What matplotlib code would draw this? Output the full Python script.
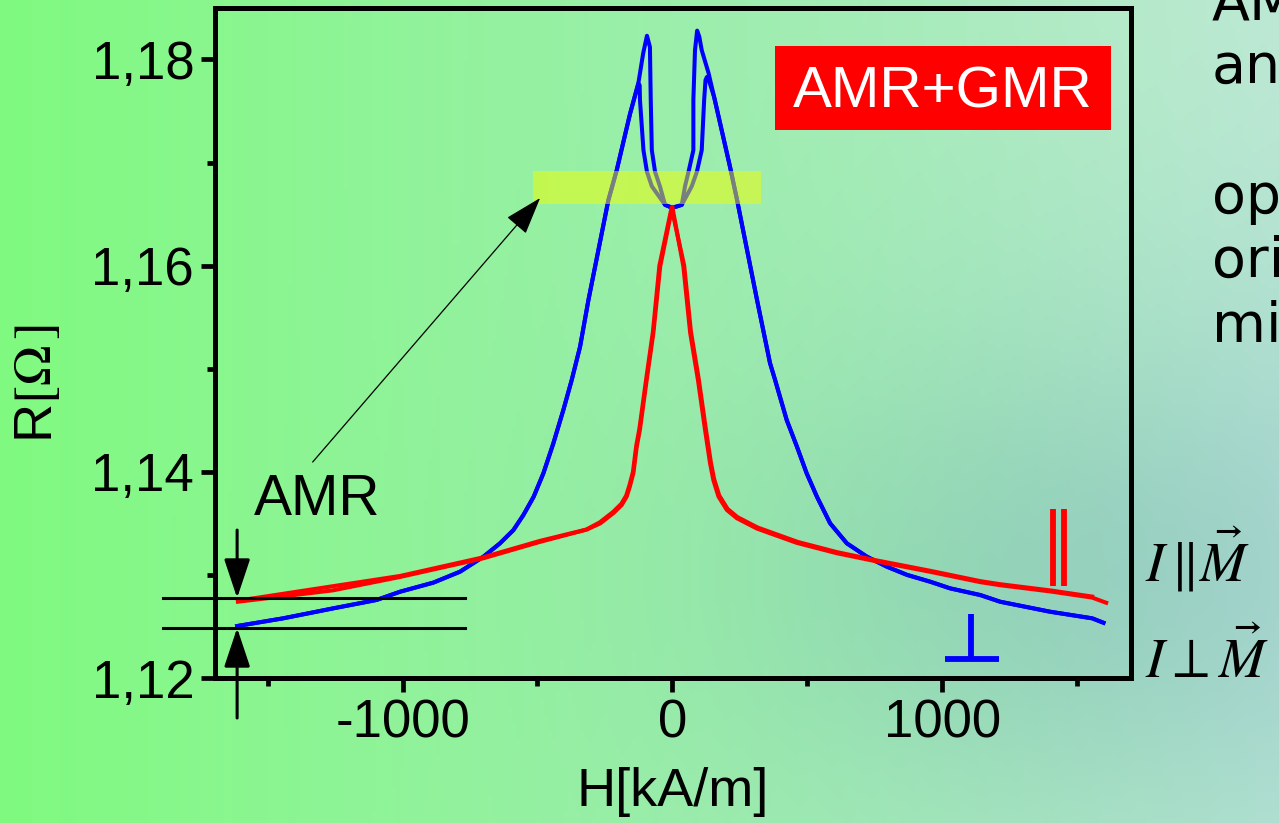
import numpy as np
import matplotlib.pyplot as plt
from matplotlib.patches import Rectangle
from matplotlib.ticker import FixedLocator, FuncFormatter

plt.rcParams['font.family'] = ['Liberation Sans', 'DejaVu Sans']
plt.rcParams['mathtext.fontset'] = 'stix'
plt.rcParams['axes.unicode_minus'] = False

#%% DATA  (H in kA/m, R in Ohm)
# blue: I perpendicular to M, shared outer envelope
blue_left_H = [-1613, -1442, -1256, -1096, -1009, -886, -787, -700, -639, -589,
               -552, -514, -478, -441, -404, -373, -342, -311, -237, -206,
               -157, -126]
blue_left_R = [1.12504, 1.12579, 1.12676, 1.12757, 1.12837, 1.12925, 1.13031,
               1.13177, 1.13306, 1.13435, 1.13581, 1.13758, 1.13985, 1.14276,
               1.14599, 1.14890, 1.15213, 1.15666, 1.16636, 1.16927, 1.17470,
               1.17768]
blue_right_H = [155, 214, 240, 314, 362, 381, 424, 462, 498, 536, 585, 647,
                721, 795, 870, 956, 1029, 1141, 1215, 1400, 1556, 1598]
blue_right_R = [1.17635, 1.16956, 1.16636, 1.15666, 1.15055, 1.14890, 1.14502,
                1.14243, 1.13985, 1.13758, 1.13500, 1.13306, 1.13177, 1.13080,
                1.13000, 1.12934, 1.12870, 1.12805, 1.12740, 1.12643, 1.12579,
                1.12536]
# sweep with the high peaks
blueA_mid_H = [-108, -94, -83, -80, -76, -64, -46, -27, 0, 35, 47, 60, 78, 78,
               84, 92, 100, 109, 134]
blueA_mid_R = [1.1806, 1.1823, 1.1812, 1.1761, 1.1712, 1.1691, 1.1677, 1.1659,
               1.1656, 1.1659, 1.1677, 1.1691, 1.1712, 1.1761, 1.1809, 1.1828,
               1.1822, 1.1809, 1.1787]
# sweep with the low peaks
blueB_mid_H = [-121, -120, -107, -94, -76, -27, 0, 35, 72, 91, 109, 118, 123,
               128, 134]
blueB_mid_R = [1.1775, 1.1761, 1.1712, 1.1691, 1.1677, 1.1659, 1.1656, 1.1659,
               1.1677, 1.1691, 1.1712, 1.1761, 1.1780, 1.1783, 1.1781]

# red: I parallel to M, two sweeps
red_H = [-1610, -1258, -1009, -702, -491, -317, -267, -218, -187, -169, -157,
         -144, -132, -120, -95, -70, -45, 0, 41, 66, 95, 121, 140, 152, 171,
         202, 239, 313, 462, 610, 759, 956, 1141, 1215, 1400, 1556, 1608]
red_R = [1.1274, 1.1285, 1.1298, 1.1316, 1.1332, 1.1344, 1.1350, 1.1360,
         1.1368, 1.1376, 1.1386, 1.1399, 1.1424, 1.1441, 1.1489, 1.1535,
         1.1599, 1.1657, 1.1599, 1.1535, 1.1489, 1.1441, 1.1408, 1.1392,
         1.1376, 1.1363, 1.1355, 1.1345, 1.1331, 1.1321, 1.1313, 1.1303,
         1.1293, 1.1290, 1.1284, 1.1278, 1.1273]
red2_H = [-1560, -1009, -702, -491, -319, -269, -220, -189, -171, -159, -146,
          -134, -122, -97, -72, -48, -3, 44, 69, 98, 124, 143, 155, 174, 205,
          242, 316, 465, 612, 759, 956, 1141, 1215, 1400, 1556]
red2_R = [1.1277, 1.1299, 1.1317, 1.1333, 1.1344, 1.1351, 1.1361, 1.1369,
          1.1377, 1.1387, 1.1400, 1.1425, 1.1442, 1.1490, 1.1536, 1.1600,
          1.1656, 1.1600, 1.1536, 1.1490, 1.1442, 1.1409, 1.1393, 1.1377,
          1.1364, 1.1356, 1.1346, 1.1332, 1.1322, 1.1314, 1.1304, 1.1294,
          1.1291, 1.1285, 1.1279]

x_major = [-1000, 0, 1000]
x_minor = [-1500, -500, 500, 1500]
y_major = [1.12, 1.14, 1.16, 1.18]
y_minor = [1.13, 1.15, 1.17]

#%% FIGURE + BACKGROUND
fig = plt.figure(figsize=(12.79, 8.23), dpi=100)
bg = fig.add_axes([0, 0, 1, 1], zorder=-10)
gx, gy = np.meshgrid(np.linspace(0, 1, 320), np.linspace(0, 1, 206))
d = np.exp(-((gx - 0.85) ** 2 + (gy - 0.7) ** 2) / 0.08)
l = np.exp(-((gx - 0.97) ** 2 + gy ** 2) / 0.06)
img = np.dstack([128 + 52 * gx - 22 * d + 8 * l,
                 250 - 22 * gx - 22 * d + 4 * l,
                 128 + 82 * gx - 8 * d + 2 * l]) / 255
bg.imshow(np.clip(img, 0, 1), extent=[0, 1, 0, 1], aspect='auto')
bg.axis('off')

ax = fig.add_axes([0.1681, 0.17618, 0.71619, 0.81470])
ax.set_facecolor('none')

#%% PLOT
lw = 2.9
ax.plot(blue_left_H + blueA_mid_H + blue_right_H,
        blue_left_R + blueA_mid_R + blue_right_R, color='#0000ff', lw=lw,
        zorder=2, solid_joinstyle='round')
ax.plot(blue_left_H + blueB_mid_H + blue_right_H,
        blue_left_R + blueB_mid_R + blue_right_R, color='#0000ff', lw=lw,
        zorder=2, solid_joinstyle='round')
ax.plot(red_H, red_R, color='#ff0000', lw=lw, zorder=3, solid_joinstyle='round')
ax.plot(red2_H, red2_R, color='#ff0000', lw=lw, zorder=3, solid_joinstyle='round')

ax.add_patch(Rectangle((-516, 1.16597), 843, 0.0032, facecolor=(0.94, 1, 0),
                       alpha=0.5, edgecolor='none', zorder=5))

ax.set_xlim(-1695, 1700)
ax.set_ylim(1.12, 1.18504)

ax.xaxis.set_major_locator(FixedLocator(x_major))
ax.xaxis.set_minor_locator(FixedLocator(x_minor))
ax.yaxis.set_major_locator(FixedLocator(y_major))
ax.yaxis.set_minor_locator(FixedLocator(y_minor))
ax.xaxis.set_major_formatter(FuncFormatter(lambda v, p: f"{v:.0f}"))
ax.yaxis.set_major_formatter(FuncFormatter(lambda v, p: f"{v:.2f}".replace('.', ',')))
ax.tick_params(which='major', direction='out', length=10, width=3.4,
               labelsize=38, pad=5)
ax.tick_params(which='minor', direction='out', length=6, width=3.4)
for s in ax.spines.values():
    s.set_linewidth(3.6)

ax.set_xlabel('H[kA/m]', fontsize=39, labelpad=13)
fig.text(38 / 1279, 1 - 383 / 823, r'R$[\Omega\,]$', fontsize=39,
         rotation=90, ha='center', va='center')

# AMR+GMR tag
ax.add_patch(Rectangle((0.6109, 0.8179), 0.3674, 0.1254, transform=ax.transAxes,
                       facecolor='#ff0000', edgecolor='none', zorder=6))
ax.text(0.7946, 0.8507, 'AMR+GMR', transform=ax.transAxes, fontsize=42,
        color='white', ha='center', va='baseline', zorder=7)

# AMR marker
ax.text(0.0424, 0.2433, 'AMR', transform=ax.transAxes, fontsize=41,
        va='baseline', ha='left')
ax.annotate('', xy=(-490, 1.16656), xytext=(-1333, 1.14095),
            arrowprops=dict(arrowstyle='-|>,head_length=2.4,head_width=0.8',
                            mutation_scale=10, color='black', lw=0.9,
                            shrinkA=0, shrinkB=0), zorder=6)
for r in (1.12776, 1.12485):
    ax.plot([-1888, -768], [r, r], color='black', lw=2.2, clip_on=False, zorder=4)
ax.annotate('', xy=(-1613, 1.12776), xytext=(-1613, 1.13435),
            annotation_clip=False,
            arrowprops=dict(arrowstyle='-|>,head_length=2.4,head_width=0.8',
                            mutation_scale=10, color='black', lw=2.2,
                            shrinkA=0, shrinkB=0))
ax.annotate('', xy=(-1613, 1.12485), xytext=(-1613, 1.11612),
            annotation_clip=False,
            arrowprops=dict(arrowstyle='-|>,head_length=2.4,head_width=0.8',
                            mutation_scale=10, color='black', lw=2.2,
                            shrinkA=0, shrinkB=0))

# parallel / perpendicular symbols
for h in (1411, 1452):
    ax.plot([h, h], [1.12892, 1.13639], color='#ff0000', lw=4.2,
            solid_capstyle='butt')
ax.plot([1011, 1211], [1.12184, 1.12184], color='#0000ff', lw=4.2,
        solid_capstyle='butt')
ax.plot([1107, 1107], [1.12184, 1.12621], color='#0000ff', lw=4.2,
        solid_capstyle='butt')

fig.text(1145 / 1279, 1 - 582 / 823, r'$I\,\Vert\vec{M}$', fontsize=40,
         va='baseline', ha='left')
fig.text(1145 / 1279, 1 - 678 / 823, r'$I\perp\vec{M}$', fontsize=40,
         va='baseline', ha='left')

# slide text running off the right edge, as in the original
for txt, yb in [('AM', 20), ('an', 83), ('ope', 213), ('ori', 277), ('mi', 342)]:
    fig.text(1212 / 1279, 1 - yb / 823, txt, fontsize=40, family='DejaVu Sans',
             va='baseline', ha='left')

fig.savefig('out.png', dpi=100)
